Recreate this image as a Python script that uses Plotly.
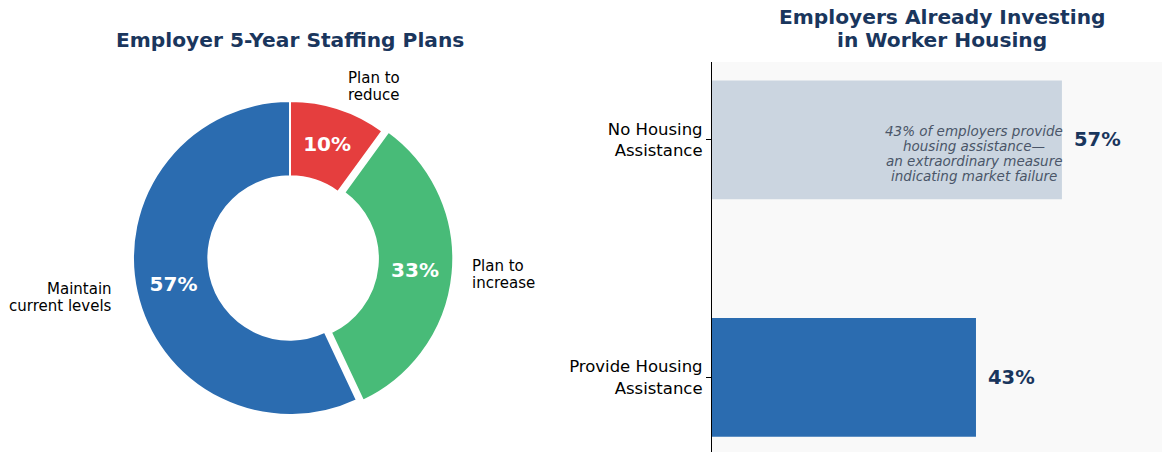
import math
import plotly.graph_objects as go

# ---- data ----
pie_labels = ["Plan to reduce", "Plan to increase", "Maintain current levels"]
pie_label_lines = [["Plan to", "reduce"], ["Plan to", "increase"], ["Maintain", "current levels"]]
pie_values = [10, 33, 57]
pie_colors = ["#e53e3e", "#48bb78", "#2b6cb0"]
pie_pull = [0, 0.04, 0]

bar_categories = ["No Housing Assistance", "Provide Housing Assistance"]
bar_ticktext = ["No Housing<br>Assistance", "Provide Housing<br>Assistance"]
bar_values = [57, 43]
bar_colors = ["#cbd5e0", "#2b6cb0"]
bar_note_lines = ["43% of employers provide", "housing assistance—",
                  "an extraordinary measure", "indicating market failure"]

W, H = 1162, 452
FONT = "DejaVu Sans"
NAVY = "#1a365d"

fig = go.Figure()

# ---- donut ----
cx, cy, R = 290, 258, 157
half = R * (1 + max(pie_pull))
fig.add_trace(go.Pie(
    labels=pie_labels, values=pie_values, sort=False, direction="clockwise", rotation=0,
    hole=0.52, pull=pie_pull,
    marker=dict(colors=pie_colors, line=dict(color="white", width=2)),
    texttemplate="<b>%{percent:.0%}</b>", textposition="inside",
    insidetextorientation="horizontal",
    textfont=dict(family=FONT, size=20, color="white"),
    domain=dict(x=[(cx - half) / W, (cx + half) / W], y=[(H - cy - half) / H, (H - cy + half) / H]),
    showlegend=False, hoverinfo="label+percent",
))

total = sum(pie_values)
cum = 0
LS = 17  # line spacing px
for lines, v in zip(pie_label_lines, pie_values):
    mid = (cum + v / 2) / total
    cum += v
    ang = math.radians(90 - 360 * mid)
    r = R * 1.15
    px = cx + r * math.cos(ang)
    py = cy - r * math.sin(ang)
    right = math.cos(ang) > 0
    n = len(lines)
    for i, ln in enumerate(lines):
        off = (i - (n - 1) / 2) * LS
        fig.add_annotation(
            x=px / W, y=1 - (py + off) / H, xref="paper", yref="paper", text=ln, showarrow=False,
            xanchor="left" if right else "right", yanchor="middle",
            font=dict(family=FONT, size=15, color="#000000"),
        )

# ---- bars ----
fig.add_trace(go.Bar(
    x=bar_values, y=bar_categories, orientation="h", width=0.5,
    marker=dict(color=bar_colors, line=dict(width=0)),
    showlegend=False, hoverinfo="x+y", xaxis="x", yaxis="y",
))
for cat, v in zip(bar_categories, bar_values):
    fig.add_annotation(
        x=v, y=cat, xref="x", yref="y", text=f"<b>{v}%</b>", showarrow=False,
        xanchor="left", yanchor="middle", xshift=10,
        font=dict(family=FONT, size=19.5, color=NAVY),
    )
for i, ln in enumerate(bar_note_lines):
    fig.add_annotation(
        x=bar_values[0] * 0.75, y=bar_categories[0], xref="x", yref="y", text=ln,
        showarrow=False, xanchor="center", yanchor="middle", yshift=9 - 15 * i,
        font=dict(family=FONT, size=13.5, color="#4a5568", style="italic"),
    )

# titles
fig.add_annotation(x=290 / W, y=1 - 40 / H, xref="paper", yref="paper",
                   text="<b>Employer 5-Year Staffing Plans</b>", showarrow=False,
                   xanchor="center", yanchor="middle",
                   font=dict(family=FONT, size=20.2, color=NAVY))
for ln, yy in zip(["Employers Already Investing", "in Worker Housing"], [17, 40]):
    fig.add_annotation(x=942 / W, y=1 - yy / H, xref="paper", yref="paper",
                       text=f"<b>{ln}</b>", showarrow=False,
                       xanchor="center", yanchor="middle",
                       font=dict(family=FONT, size=20.2, color=NAVY))

fig.update_layout(
    width=W, height=H, margin=dict(l=0, r=0, t=0, b=0),
    paper_bgcolor="white", plot_bgcolor="#f9f9f9",
    font=dict(family=FONT),
    xaxis=dict(domain=[712 / W, 1], range=[0, 73.3], showticklabels=False, showgrid=False,
               zeroline=False, showline=False, ticks=""),
    yaxis=dict(domain=[0, 1 - 62 / H], range=[-0.314, 1.328], type="category",
               categoryorder="array", categoryarray=list(reversed(bar_categories)),
               tickvals=bar_categories, ticktext=bar_ticktext,
               tickfont=dict(family=FONT, size=16.5, color="#000000"),
               showline=True, linecolor="#000000", linewidth=1.2,
               ticks="outside", ticklen=5, tickcolor="#000000", showgrid=False, zeroline=False),
)

fig.write_html("out.html", config={"displayModeBar": False},
               post_script="document.body.style.margin='0';document.body.style.overflow='hidden';")
